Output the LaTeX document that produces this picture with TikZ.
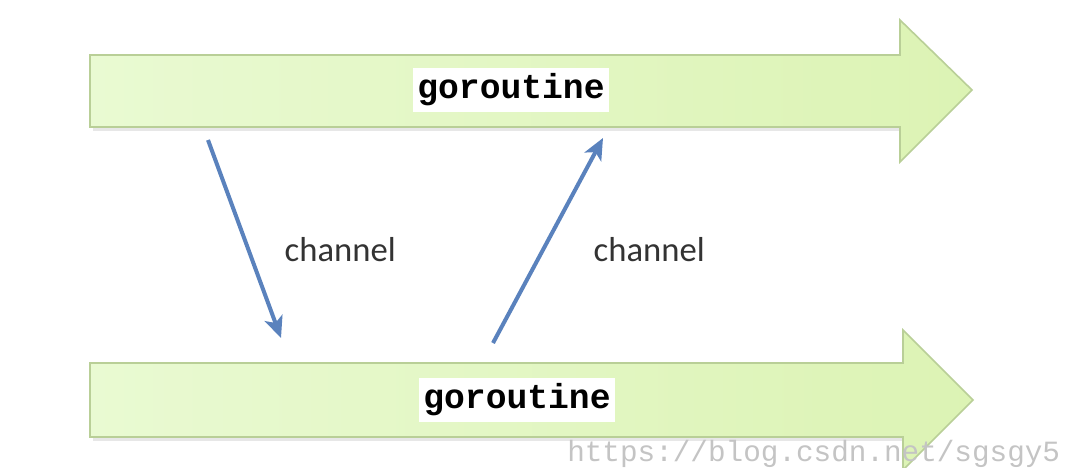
\documentclass[tikz,border=0pt]{standalone}
\usepackage{fontspec}
\setmainfont{Carlito}
\newfontfamily\codefont{Liberation Mono}
\usetikzlibrary{arrows.meta}
\definecolor{flowleft}{HTML}{E9FAD2}
\definecolor{flowright}{HTML}{DCF3B4}
\definecolor{flowedge}{HTML}{B9CF97}
\definecolor{chanblue}{HTML}{5A82BD}
\definecolor{marktext}{HTML}{C4C4C4}
\tikzset{
  flow/.style={draw=flowedge, line width=1.2pt, left color=flowleft, right color=flowright},
  flowshadow/.style={fill=black!18},
  gor/.style={fill=white, inner xsep=3pt, inner ysep=4pt, font=\codefont\bfseries\fontsize{26}{30}\selectfont},
  chan/.style={draw=chanblue, line width=3pt, -{Stealth[length=16pt, width=14pt, inset=4pt]}},
  chanlabel/.style={font=\fontsize{26}{30}\selectfont, text=black!80},
}
\begin{document}
\begin{tikzpicture}[x=0.75pt, y=-0.75pt]
  \clip (0,0) rectangle (1072,468);
  \fill[white] (0,0) rectangle (1072,468);

  % soft shadows under the two flow arrows
  \fill[flowshadow, opacity=0.5] (93,127) rectangle (900,131);
  \fill[flowshadow, opacity=0.5] (93,437) rectangle (903,441);

  % upper goroutine flow
  \path[flow] (90,55) -- (900,55) -- (900,20) -- (972,90) -- (900,162) -- (900,127) -- (90,127) -- cycle;
  % lower goroutine flow
  \path[flow] (90,363) -- (903,363) -- (903,330) -- (973,400) -- (903,470) -- (903,437) -- (90,437) -- cycle;

  \node[gor] (g1) at (511,90) {goroutine};
  \node[gor] (g2) at (517,400) {goroutine};

  % channel ends
  \coordinate (s1) at (208,140);
  \coordinate (e1) at (281,338);
  \coordinate (s2) at (493,343);
  \coordinate (e2) at (603,138);

  \draw[chan] (s1) -- (e1);
  \draw[chan] (s2) -- (e2);

  \node[chanlabel, anchor=west] (c1) at (280,250) {channel};
  \node[chanlabel, anchor=west] (c2) at (589,250) {channel};

  \node[anchor=base west, text=marktext, inner sep=0pt,
        font=\codefont\fontsize{22}{26}\selectfont] (wm) at (567,461) {https://blog.csdn.net/sgsgy5};
\end{tikzpicture}
\end{document}
